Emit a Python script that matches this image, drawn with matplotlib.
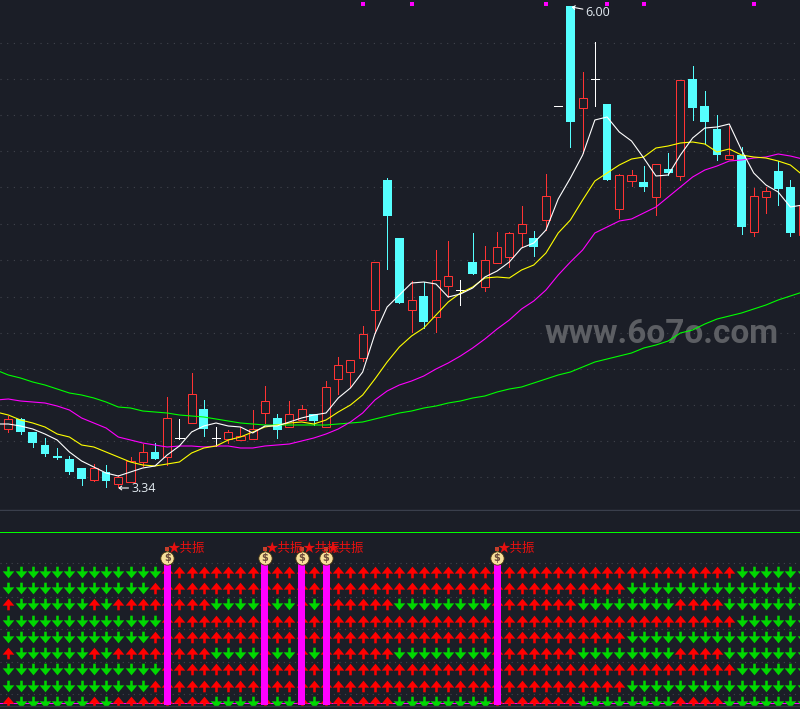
import numpy as np
import matplotlib
matplotlib.use('Agg')
import matplotlib.pyplot as plt
from matplotlib.path import Path

# candles in chart level units (no axis is shown)
opens = [71,81,68,55,44,41,32,20,28,16,18,38,48,43,62,77,91,62,61,60,61,87,82,73,80,86,73,121,128,142,
         190,320,262,190,204,183,214,210,238,213,237,243,267,262,280,394,494,392,421,396,291,319,318,303,331,
         324,421,394,371,341,345,268,303,329,313,265]
highs = [84,82,68,62,52,44,32,36,35,25,43,56,57,103,81,127,100,73,70,73,90,114,86,99,95,86,119,143,140,174,
         238,322,262,219,218,250,259,220,267,254,268,268,294,269,326,394,494,428,458,396,326,330,334,336,347,
         420,434,409,385,374,353,312,313,339,320,305]
lows = [68,66,53,44,41,26,15,19,13,13,18,34,41,35,61,77,64,54,57,60,61,77,62,73,80,75,73,106,113,139,
        167,231,197,168,172,168,203,195,226,209,237,233,253,244,270,394,353,347,394,320,282,314,309,285,325,
        320,380,356,340,341,266,264,287,295,264,260]
closes = [81,68,57,46,42,28,21,32,19,23,39,48,41,82,62,106,71,62,68,64,71,99,70,86,91,79,113,135,140,166,
          238,284,197,200,178,220,224,210,226,240,253,267,276,253,304,394,378,402,421,320,325,325,313,336,327,
          420,392,378,345,345,273,304,309,311,267,295]

# moving averages, first value sits just off the left edge
ma5 = [76,76,74,71,66,60,48,39,33,27,24,28,32,34,45,54,68,74,77,74,73,67,74,74,78,82,85,87,102,112,128,
       166,193,205,217,218,216,203,206,212,223,229,238,252,257,270,301,322,345,380,383,368,359,342,324,325,
       345,362,372,373,376,350,327,315,308,293,295]
ma10 = [88,85,80,77,73,66,63,55,53,48,43,38,35,34,36,38,47,52,54,60,63,68,73,75,77,78,76,80,88,95,105,
        121,138,153,164,172,185,198,207,213,222,223,222,230,235,247,267,280,300,319,327,335,341,343,352,354,
        357,358,356,348,351,345,343,342,339,335,325]
ma20 = [100,101,99,98,97,94,90,82,77,72,63,60,57,55,53,54,54,53,54,54,52,52,54,55,56,59,62,66,71,78,87,
        100,109,115,119,124,131,137,144,152,161,171,180,191,199,210,225,238,250,267,273,279,281,287,293,303,
        313,323,330,334,339,340,342,343,346,344,341]
ma60 = [130,125,122,118,115,111,107,105,102,98,93,92,89,88,87,85,84,83,81,79,77,76,75,75,75,75,75,75,76,77,78,
        81,84,87,89,92,94,97,99,102,104,108,111,113,117,121,125,128,133,138,141,144,147,152,155,159,
        167,170,176,181,184,187,191,195,200,204,208]

grid_levels = [457.5,421,385,349,313,276,240,203,167,131,95,59,23]
top_marks = [29,33,44,49,52,61]

# lower panel: U = red up arrow, D = green down arrow, per candle
pattern_a = 'DDDDDDDDDDDDD' + 'U'*47 + 'DDDDDD'
pattern_b = 'DDDDDDDDDDDD' + 'U'*39 + 'D'*15
pattern_c = ('UDDDDDDUDUUUU' + 'U' + 'UUU' + 'DDDD' + 'U' + 'DD' + 'U' + 'D' + 'U'
             + 'UUUUU' + 'DDDDDDDD' + 'U' + 'UU' + 'UUUU' + 'DDDDDDDD' + 'UUUU' + 'DDDDDDD')
row_patterns = [pattern_a, pattern_b, pattern_c] * 3
signal_days = [13,21,24,26,40]
lower_grid = [-0.554,1.54,3.51,5.54,7.51]

bg = '#1b1e27'
red = '#ff3333'
cyan = '#55ffff'
thin = 0.72

fig = plt.figure(figsize=(8, 7.09), dpi=100, facecolor=bg)
ax = fig.add_axes([0, 198/709, 1, 511/709], facecolor=bg)
ax2 = fig.add_axes([0, 4/709, 1, 194/709], facecolor=bg)

x_min, x_max = -8.3/12.22, (800-8.3)/12.22
for a in (ax, ax2):
    a.set_xlim(x_min, x_max)
    a.tick_params(left=False, bottom=False, labelleft=False, labelbottom=False)
    for s in a.spines.values():
        s.set_visible(False)
    a.set_axisbelow(True)
ax.set_ylim(-11, 500)
ax2.set_ylim(8.185, -3.754)

ax.set_yticks(grid_levels)
ax.set_xticks([])
ax.grid(axis='y', color='#41444d', linewidth=0.8, linestyle=(0, (1, 5)))
ax2.set_yticks(lower_grid)
ax2.set_xticks([])
ax2.grid(axis='y', color='#41444d', linewidth=0.8, linestyle=(0, (1, 4)))

# watermark under everything
ax.text(53.5, 157, 'www.6o7o.com', color='#5c5e63', fontsize=24, family='Roboto',
        fontweight='bold', ha='center', va='baseline', zorder=1)

days = np.arange(len(opens))
o = np.array(opens)
h = np.array(highs)
l = np.array(lows)
c = np.array(closes)
up = c > o
down = c < o
flat = c == o

ax.vlines(days[up], l[up], h[up], color=red, linewidth=thin, antialiased=False, zorder=2)
ax.vlines(days[down], l[down], h[down], color=cyan, linewidth=thin, antialiased=False, zorder=2)
ax.vlines(days[flat], l[flat], h[flat], color='white', linewidth=thin, antialiased=False, zorder=2)
ax.hlines(c[flat], days[flat]-0.35, days[flat]+0.35, color='white', linewidth=thin, antialiased=False, zorder=2)
ax.bar(days[up], (c-o)[up], bottom=o[up], width=0.66, facecolor=bg, edgecolor=red, linewidth=thin, zorder=2.1)
ax.bar(days[down], (c-o)[down], bottom=o[down], width=0.72, facecolor=cyan, edgecolor='none', zorder=2.1)

ma_days = np.arange(-1, len(opens))
ax.plot(ma_days, ma60, color='#00ff00', linewidth=0.8, zorder=3)
ax.plot(ma_days, ma20, color='#ff00ff', linewidth=0.8, zorder=3)
ax.plot(ma_days, ma10, color='#ffff00', linewidth=0.8, zorder=3)
ax.plot(ma_days, ma5, color='white', linewidth=0.8, zorder=3)

ax.scatter(top_marks, [496]*len(top_marks), marker='s', s=5, color='#ff00ff', linewidths=0, zorder=3)

# high / low labels
arrow = dict(arrowstyle='->,head_length=0.2,head_width=0.15', color='white', linewidth=0.8,
             shrinkA=0, shrinkB=0)
ax.annotate('6.00', xy=(46.1, 493), xytext=(14, -5), textcoords='offset pixels', color='#e4ecf2',
            fontsize=9, family='Open Sans', ha='left', va='center', arrowprops=arrow, zorder=4)
ax.annotate('3.34', xy=(9, 12), xytext=(13, 0), textcoords='offset pixels', color='#e4ecf2',
            fontsize=9, family='Open Sans', ha='left', va='center', arrowprops=arrow, zorder=4)

# panel separator
ax.axhline(-10, color='#3a3f4c', linewidth=1)

# lower panel
ax2.axhline(-2.44, color='#00ff00', linewidth=thin, antialiased=False)
ax2.axhline(8.09, color='#ff00ff', linewidth=thin, antialiased=False, zorder=1.5)

up_arrow = Path([(-0.5,-0.1),(0,0.5),(0.5,-0.1),(0.11,-0.1),(0.11,-0.5),(-0.11,-0.5),(-0.11,-0.1),(-0.5,-0.1)], closed=True)
down_arrow = Path([(-0.5,0.1),(0,-0.5),(0.5,0.1),(0.11,0.1),(0.11,0.5),(-0.11,0.5),(-0.11,0.1),(-0.5,0.1)], closed=True)
for row, pattern in enumerate(row_patterns):
    for day, sig in enumerate(pattern):
        if sig == 'U':
            ax2.scatter(day, row, marker=up_arrow, s=70, color='#ff0000', linewidths=0, zorder=2)
        else:
            ax2.scatter(day, row, marker=down_arrow, s=70, color='#00d800', linewidths=0, zorder=2)

ax2.bar(signal_days, [8.739]*len(signal_days), bottom=-0.554, width=0.57, color='#ff00ff', zorder=3)

# money bag on top of every signal bar, and its label
for day in signal_days:
    ax2.scatter(day, -1.18, marker='^', s=30, color='#d8ae3c', linewidths=0.4, edgecolors='#3a2a10', zorder=4)
    ax2.scatter(day, -1.42, marker='s', s=6, color='#c8402c', linewidths=0, zorder=4.2)
    ax2.scatter(day, -0.86, marker='o', s=92, color='#f7e09a', linewidths=0.6, edgecolors='#4a3510', zorder=4.1)
    ax2.text(day, -0.86, '$', fontsize=7, color='#6b4a3a', fontweight='bold', ha='center', va='center', zorder=4.3)
    ax2.text(day+0.05, -1.48, '★共振', fontsize=9, color='#e81010', ha='left', va='center', zorder=5,
             family=['Noto Sans CJK SC', 'DejaVu Sans'])

# thin closing line under the lower panel
fig.add_artist(plt.Line2D([0, 1], [3/709, 3/709], color='#30333c', linewidth=1))

fig.savefig('out.png', dpi=100, facecolor=bg)
